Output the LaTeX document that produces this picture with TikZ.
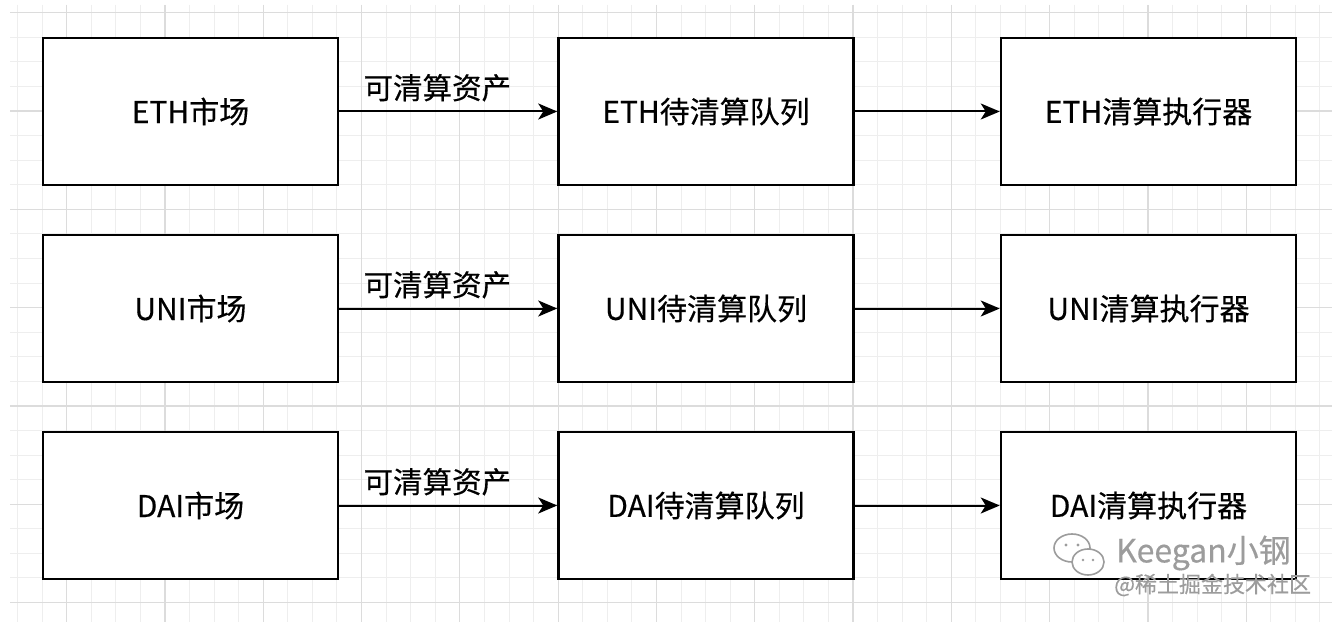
\documentclass[tikz,border=0pt]{standalone}
\usepackage{fontspec}
\setmainfont{Noto Sans CJK SC}[FakeBold=0.4]
\usetikzlibrary{arrows.meta}
\definecolor{gridminor}{HTML}{EEEEEE}
\definecolor{gridmajor}{HTML}{DCDCDC}
\definecolor{wm}{HTML}{9C9C9C}
\tikzset{
  box/.style={draw=black, line width=2.5pt, fill=white, minimum width=295pt, minimum height=147pt, inner sep=0pt, font=\fontsize{30}{34}\selectfont},
  conn/.style={line width=2pt, -{Stealth[length=19pt, width=16pt, inset=5pt]}},
  lbl/.style={font=\fontsize{29.5}{33}\selectfont, inner sep=0pt},
}
\begin{document}
\begin{tikzpicture}[x=1pt,y=-1pt]
\useasboundingbox (0,0) rectangle (1341,631);
\fill[white] (0,0) rectangle (1341,631);
% grid
\begin{scope}
\clip (10,5) rectangle (1332,622);
\foreach \i in {0,...,54} {
  \pgfmathsetmacro\gx{17.5+\i*24.575}
  \draw[gridminor, line width=1pt] (\gx,5) -- (\gx,622);
}
\foreach \i in {0,...,25} {
  \pgfmathsetmacro\gy{12.7+\i*24.575}
  \draw[gridminor, line width=1pt] (10,\gy) -- (1332,\gy);
}
\foreach \i in {0,...,13} {
  \pgfmathsetmacro\gx{66.65+\i*98.3}
  \draw[gridmajor, line width=1.2pt] (\gx,5) -- (\gx,622);
}
\foreach \i in {0,...,6} {
  \pgfmathsetmacro\gy{12.7+\i*98.3}
  \draw[gridmajor, line width=1.2pt] (10,\gy) -- (1332,\gy);
}
\end{scope}
% row 1
\node[box] (m1) at (190.5,111.5) {ETH市场};
\node[box] (q1) at (706,111.5) {ETH待清算队列};
\node[box] (e1) at (1148.5,111.5) {ETH清算执行器};
% row 2
\node[box] (m2) at (190.5,308.5) {UNI市场};
\node[box] (q2) at (706,308.5) {UNI待清算队列};
\node[box] (e2) at (1148.5,308.5) {UNI清算执行器};
% row 3
\node[box] (m3) at (190.5,505.5) {DAI市场};
\node[box] (q3) at (706,505.5) {DAI待清算队列};
\node[box] (e3) at (1148.5,505.5) {DAI清算执行器};
% connectors
\foreach \r in {1,2,3} {
  \draw[conn] (m\r) -- (q\r) node[lbl, pos=0.45, above=9pt] (l\r) {可清算资产};
  \draw[conn] (q\r) -- (e\r);
}
% watermark
\begin{scope}[wm, line width=1.6pt]
\draw (1072,548) ellipse (18pt and 14pt);
\fill[white] (1088,562) ellipse (16pt and 13pt);
\draw (1088,562) ellipse (16pt and 13pt);
\fill (1066,545) circle (1.6pt);
\fill (1078,545) circle (1.6pt);
\fill (1083,560) circle (1.4pt);
\fill (1093,560) circle (1.4pt);
\end{scope}
\node[anchor=west, text=wm, font=\fontsize{32}{36}\selectfont, inner sep=0pt] (wm1) at (1116,553) {Keegan小钢};
\node[anchor=west, text=wm, font=\fontsize{22}{26}\selectfont, inner sep=0pt] (wm2) at (1114,585) {@稀土掘金技术社区};
\end{tikzpicture}
\end{document}
